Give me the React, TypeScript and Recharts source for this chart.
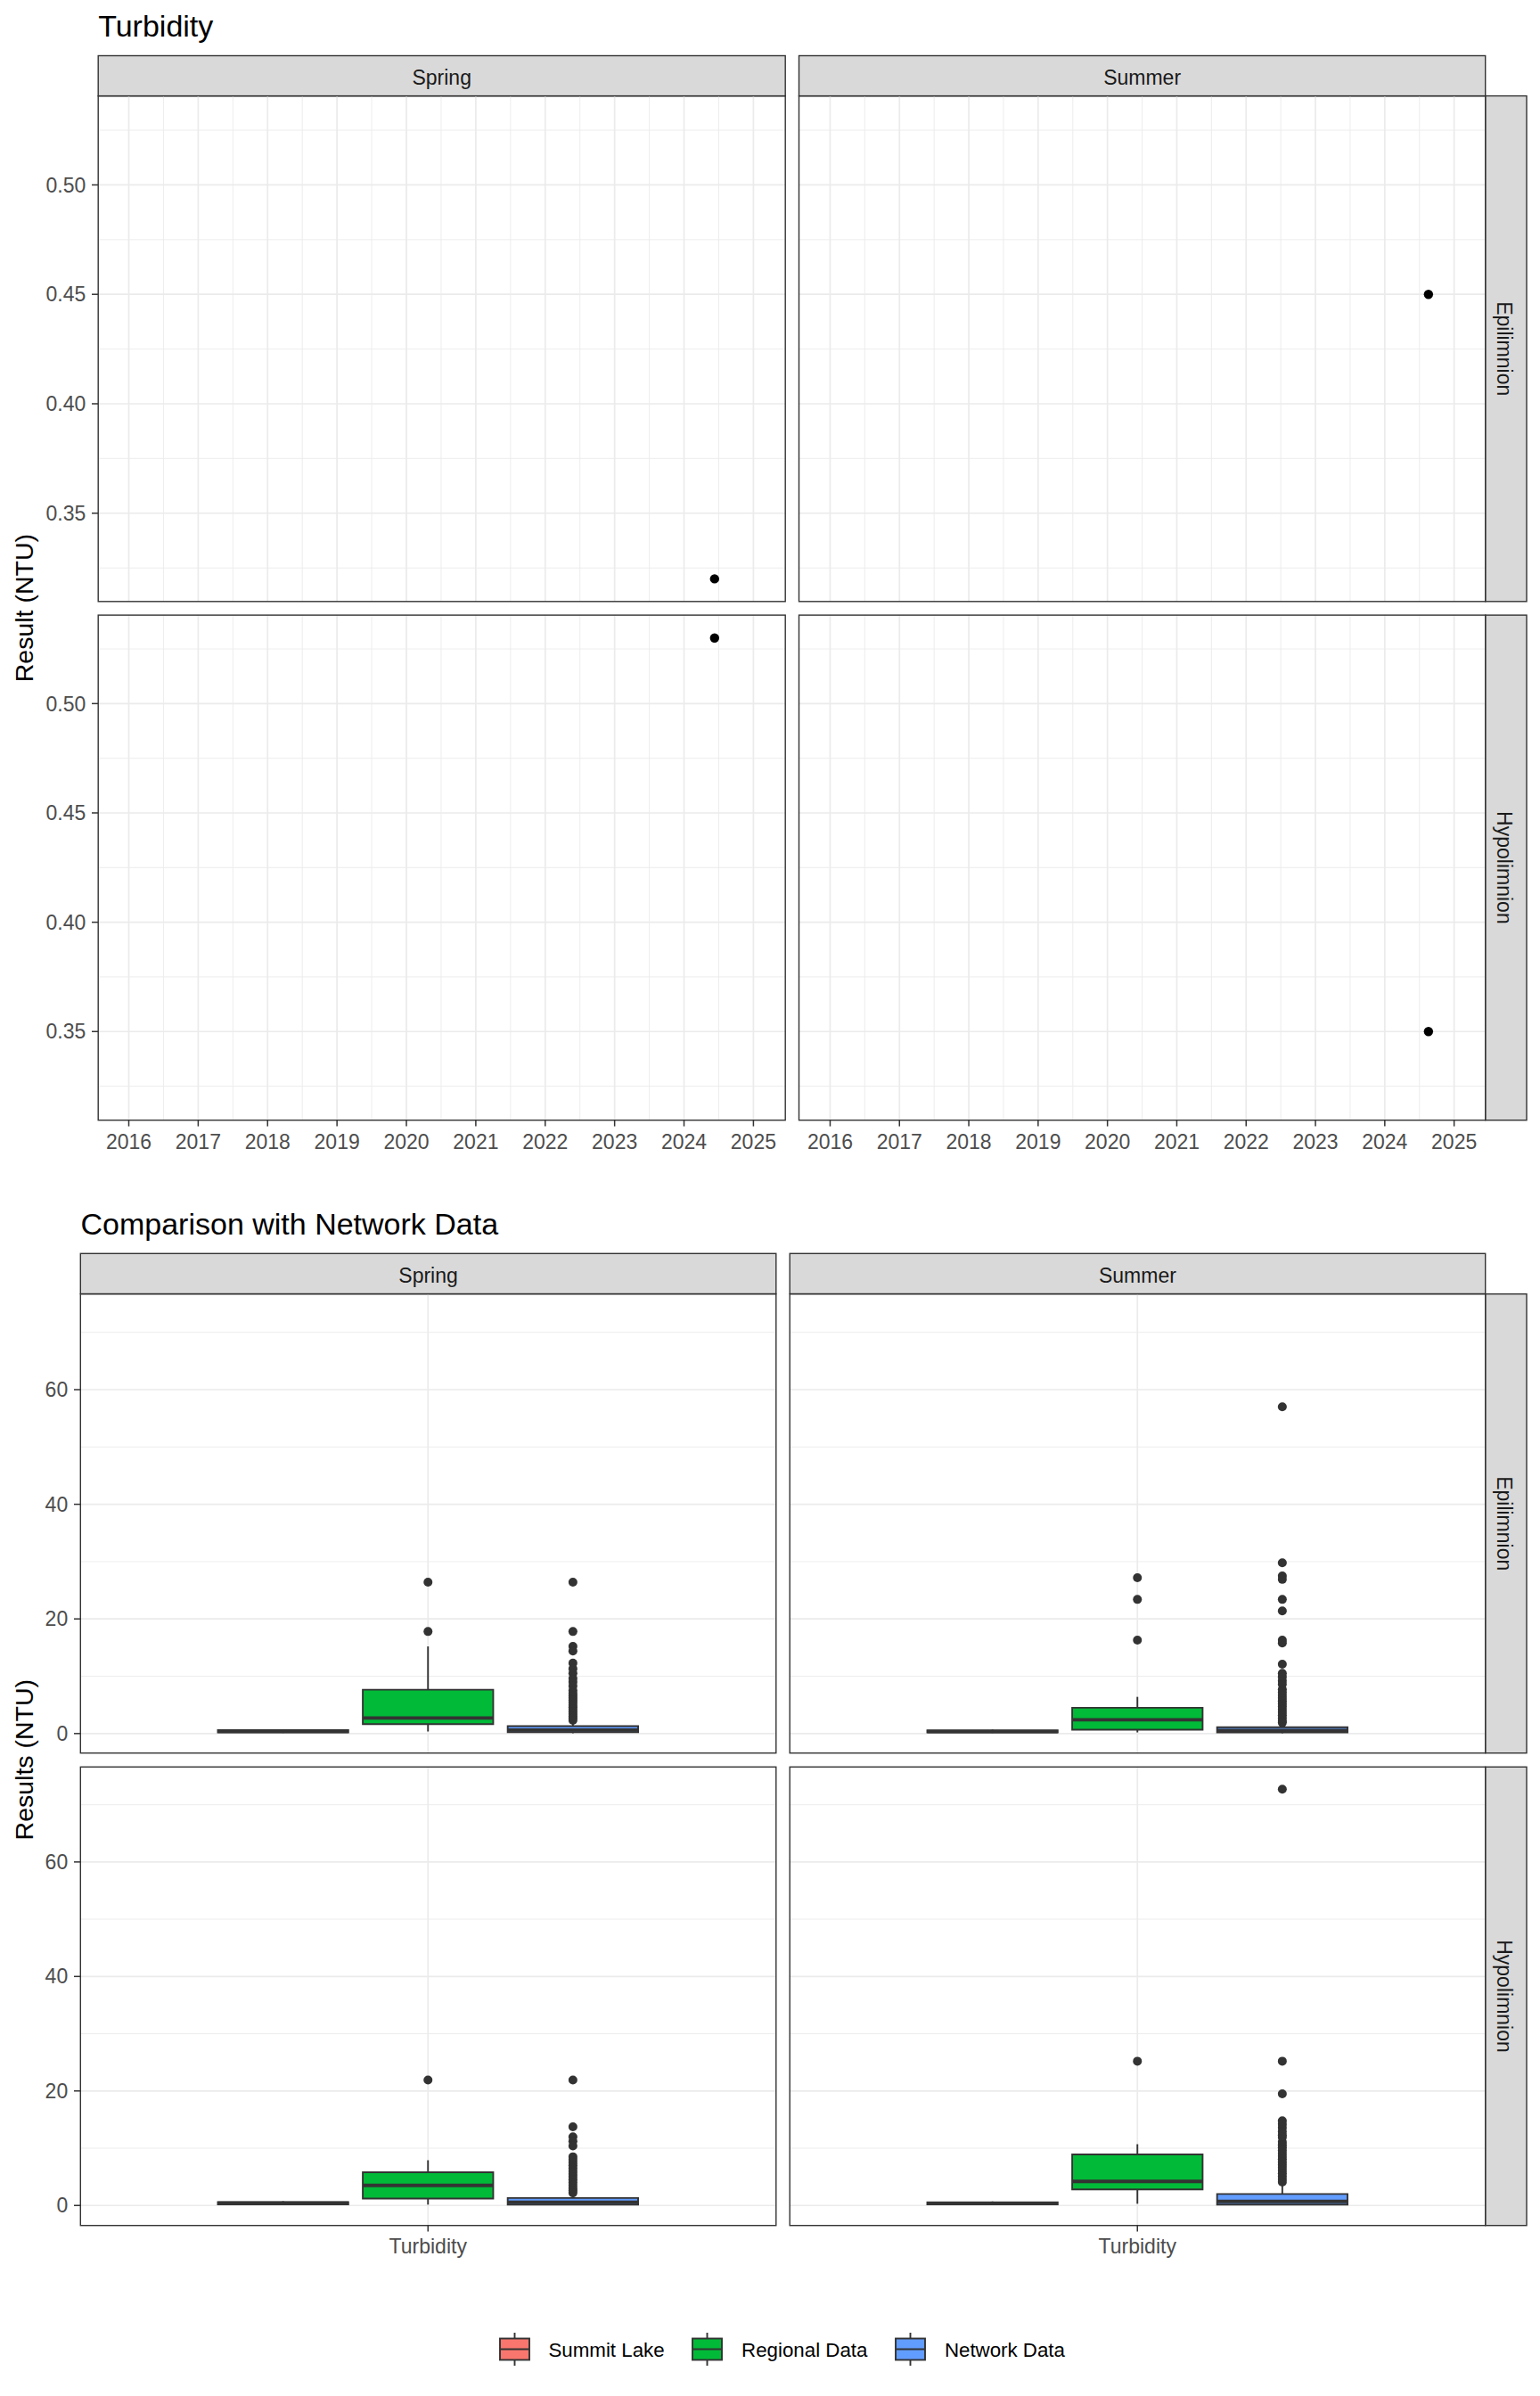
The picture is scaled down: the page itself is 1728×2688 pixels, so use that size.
import React from "react";
import {
  ComposedChart,
  Scatter,
  XAxis,
  YAxis,
  CartesianGrid,
  ReferenceArea,
  ReferenceLine,
} from "recharts";

const FONT = '"Liberation Sans", Arial, Helvetica, sans-serif';
const INK = "#333333";
const GRID = "#EBEBEB";
const STRIP_FILL = "#D9D9D9";
const TICK_TEXT = "#4D4D4D";
const STRIP_TEXT = "#1A1A1A";

// ---------------- Chart 1: Turbidity over time ----------------
const SEASONS = ["Spring", "Summer"];
const DEPTHS = ["Epilimnion", "Hypolimnion"];
const YEAR_TICKS = [2016, 2017, 2018, 2019, 2020, 2021, 2022, 2023, 2024, 2025];
const YEAR_MINOR = [2016.5, 2017.5, 2018.5, 2019.5, 2020.5, 2021.5, 2022.5, 2023.5, 2024.5];
const RESULT_TICKS = [0.35, 0.4, 0.45, 0.5];
const RESULT_MINOR = [0.325, 0.375, 0.425, 0.475, 0.525];
const SAMPLE_SEASON = ["Spring", "Summer", "Spring", "Summer"];
const SAMPLE_DEPTH = ["Epilimnion", "Epilimnion", "Hypolimnion", "Hypolimnion"];
const SAMPLE_YEAR = [2024.44, 2024.63, 2024.44, 2024.63];
const SAMPLE_NTU = [0.32, 0.45, 0.53, 0.35];
const YEAR_DOMAIN = [2015.557, 2025.457];
const RESULT_DOMAIN = [0.3095, 0.5405];

// ---------------- Chart 2: Comparison with network data ----------------
const GROUPS = ["Summit Lake", "Regional Data", "Network Data"];
const GROUP_FILL = ["#F8766D", "#00BA38", "#619CFF"];
const PARAMETER = "Turbidity";
const NTU_TICKS = [0, 20, 40, 60];
const NTU_MINOR = [10, 30, 50, 70];
const NTU_DOMAIN = [-3.45, 76.64];

// five-number summaries: [lower whisker, Q1, median, Q3, upper whisker]
const SPRING_EPI_SUMMIT = [0.1, 0.2, 0.4, 0.6, 0.75];
const SPRING_EPI_REGIONAL = [0.36, 1.65, 2.7, 7.65, 15.2];
const SPRING_EPI_NETWORK = [0.05, 0.25, 0.6, 1.3, 2.1];
const SUMMER_EPI_SUMMIT = [0.1, 0.2, 0.35, 0.55, 0.7];
const SUMMER_EPI_REGIONAL = [0.2, 0.67, 2.4, 4.5, 6.4];
const SUMMER_EPI_NETWORK = [0.05, 0.2, 0.55, 1.1, 1.75];
const SPRING_HYPO_SUMMIT = [0.1, 0.2, 0.4, 0.6, 0.75];
const SPRING_HYPO_REGIONAL = [0.15, 1.2, 3.5, 5.8, 7.9];
const SPRING_HYPO_NETWORK = [0.05, 0.15, 0.57, 1.3, 1.9];
const SUMMER_HYPO_SUMMIT = [0.1, 0.2, 0.35, 0.55, 0.7];
const SUMMER_HYPO_REGIONAL = [0.3, 2.8, 4.2, 8.9, 10.7];
const SUMMER_HYPO_NETWORK = [0.05, 0.16, 0.7, 2.0, 3.8];

// outliers
const NO_OUTLIERS: number[] = [];
const SPRING_EPI_REGIONAL_OUT = [26.4, 17.8];
const SPRING_EPI_NETWORK_OUT = [
  26.4, 17.8, 15.2, 14.4, 12.3, 11.3, 10.5, 9.6, 9.0, 8.3, 7.5, 7.0, 6.6, 6.2, 5.8, 5.4, 5.0,
  4.6, 4.2, 3.8, 3.4, 3.0, 2.7, 2.3,
];
const SUMMER_EPI_REGIONAL_OUT = [27.2, 23.4, 16.3];
const SUMMER_EPI_NETWORK_OUT = [
  57.0, 29.8, 27.5, 26.9, 23.4, 21.4, 16.3, 15.8, 12.1, 10.5, 9.9, 9.2, 8.6, 7.7, 7.2, 6.7,
  6.2, 5.7, 5.2, 4.7, 4.2, 3.7, 3.2, 2.7, 2.2, 1.9,
];
const SPRING_HYPO_REGIONAL_OUT = [21.9];
const SPRING_HYPO_NETWORK_OUT = [
  21.9, 13.75, 12.0, 11.2, 10.4, 8.5, 8.0, 7.5, 7.0, 6.5, 6.0, 5.5, 5.0, 4.5, 4.0, 3.5, 3.0,
  2.6, 2.2,
];
const SUMMER_HYPO_REGIONAL_OUT = [25.2];
const SUMMER_HYPO_NETWORK_OUT = [
  72.7, 25.2, 19.5, 14.8, 14.2, 13.6, 12.9, 12.3, 11.9, 11.1, 10.6, 10.1, 9.6, 9.1, 8.6, 8.1,
  7.6, 7.1, 6.6, 6.1, 5.6, 5.1, 4.6, 4.1,
];

const NETWORK_FACETS = [
  {
    season: "Spring",
    depth: "Epilimnion",
    stats: [SPRING_EPI_SUMMIT, SPRING_EPI_REGIONAL, SPRING_EPI_NETWORK],
    outliers: [NO_OUTLIERS, SPRING_EPI_REGIONAL_OUT, SPRING_EPI_NETWORK_OUT],
  },
  {
    season: "Summer",
    depth: "Epilimnion",
    stats: [SUMMER_EPI_SUMMIT, SUMMER_EPI_REGIONAL, SUMMER_EPI_NETWORK],
    outliers: [NO_OUTLIERS, SUMMER_EPI_REGIONAL_OUT, SUMMER_EPI_NETWORK_OUT],
  },
  {
    season: "Spring",
    depth: "Hypolimnion",
    stats: [SPRING_HYPO_SUMMIT, SPRING_HYPO_REGIONAL, SPRING_HYPO_NETWORK],
    outliers: [NO_OUTLIERS, SPRING_HYPO_REGIONAL_OUT, SPRING_HYPO_NETWORK_OUT],
  },
  {
    season: "Summer",
    depth: "Hypolimnion",
    stats: [SUMMER_HYPO_SUMMIT, SUMMER_HYPO_REGIONAL, SUMMER_HYPO_NETWORK],
    outliers: [NO_OUTLIERS, SUMMER_HYPO_REGIONAL_OUT, SUMMER_HYPO_NETWORK_OUT],
  },
];

// ---------------- layout ----------------
const C1_COLS = [
  { x: 110.2, w: 771 },
  { x: 896.5, w: 770.2 },
];
const C1_ROWS = [
  { y: 107.6, h: 567.2 },
  { y: 690.1, h: 566.6 },
];
const C1_STRIP_Y = 62.5;
const C2_COLS = [
  { x: 90.3, w: 780.5 },
  { x: 886.2, w: 780.5 },
];
const C2_ROWS = [
  { y: 1451.7, h: 515 },
  { y: 1982.3, h: 514.4 },
];
const C2_STRIP_Y = 1406.3;
const STRIP_H = 45.2;
const RSTRIP_X = 1666.7;
const RSTRIP_W = 46.3;
const YW = 100;
const XH = 60;
const DODGE = 0.25;
const HALF_BOX = 0.1125;

const TICK_STYLE = { fill: TICK_TEXT, fontSize: 23, fontFamily: FONT };
const TICK_LINE = { stroke: INK, strokeWidth: 1.5 };

function TurbidityPanel({ season, depth, col, row }: any) {
  const c = C1_COLS[col];
  const r = C1_ROWS[row];
  const showY = col === 0;
  const showX = row === DEPTHS.length - 1;
  const yw = showY ? YW : 0;
  const xh = showX ? XH : 0;
  const points = SAMPLE_YEAR.map((year, i) => ({
    x: year,
    y: SAMPLE_NTU[i],
    season: SAMPLE_SEASON[i],
    depth: SAMPLE_DEPTH[i],
  })).filter((p) => p.season === season && p.depth === depth);
  return (
    <div style={{ position: "absolute", left: c.x - yw, top: r.y, width: c.w + yw, height: r.h + xh }}>
      <ComposedChart width={c.w + yw} height={r.h + xh} margin={{ top: 0, right: 0, bottom: 0, left: 0 }}>
        <CartesianGrid verticalValues={YEAR_MINOR} horizontalValues={RESULT_MINOR} stroke={GRID} strokeWidth={0.9} />
        <CartesianGrid verticalValues={YEAR_TICKS} horizontalValues={RESULT_TICKS} stroke={GRID} strokeWidth={1.7} />
        <XAxis
          type="number"
          dataKey="x"
          domain={YEAR_DOMAIN}
          allowDataOverflow
          ticks={YEAR_TICKS}
          interval={0}
          hide={!showX}
          height={XH}
          axisLine={false}
          tickLine={TICK_LINE}
          tickSize={7}
          tickMargin={9.5}
          tick={TICK_STYLE}
        />
        <YAxis
          type="number"
          dataKey="y"
          domain={RESULT_DOMAIN}
          allowDataOverflow
          ticks={RESULT_TICKS}
          interval={0}
          hide={!showY}
          width={YW}
          axisLine={false}
          tickLine={TICK_LINE}
          tickSize={7}
          tickMargin={6.8}
          tick={TICK_STYLE}
          tickFormatter={(v: number) => v.toFixed(2)}
        />
        <Scatter
          data={points}
          isAnimationActive={false}
          shape={(p: any) => <circle cx={p.cx} cy={p.cy} r={5.2} fill="#000000" />}
        />
      </ComposedChart>
    </div>
  );
}

function NetworkPanel({ facet, col, row }: any) {
  const c = C2_COLS[col];
  const r = C2_ROWS[row];
  const showY = col === 0;
  const showX = row === DEPTHS.length - 1;
  const yw = showY ? YW : 0;
  const xh = showX ? XH : 0;
  return (
    <div style={{ position: "absolute", left: c.x - yw, top: r.y, width: c.w + yw, height: r.h + xh }}>
      <ComposedChart width={c.w + yw} height={r.h + xh} margin={{ top: 0, right: 0, bottom: 0, left: 0 }}>
        <CartesianGrid vertical={false} horizontalValues={NTU_MINOR} stroke={GRID} strokeWidth={0.9} />
        <CartesianGrid verticalValues={[1]} horizontalValues={NTU_TICKS} stroke={GRID} strokeWidth={1.7} />
        <XAxis
          type="number"
          dataKey="x"
          domain={[0.4, 1.6]}
          allowDataOverflow
          ticks={[1]}
          interval={0}
          hide={!showX}
          height={XH}
          axisLine={false}
          tickLine={TICK_LINE}
          tickSize={7}
          tickMargin={8}
          tick={TICK_STYLE}
          tickFormatter={() => PARAMETER}
        />
        <YAxis
          type="number"
          dataKey="y"
          domain={NTU_DOMAIN}
          allowDataOverflow
          ticks={NTU_TICKS}
          interval={0}
          hide={!showY}
          width={YW}
          axisLine={false}
          tickLine={TICK_LINE}
          tickSize={7}
          tickMargin={6.8}
          tick={TICK_STYLE}
        />
        {GROUPS.map((g, i) => {
          const cx = 1 + (i - 1) * DODGE;
          const [lw, q1, med, q3, uw] = facet.stats[i];
          return (
            <React.Fragment key={g}>
              <ReferenceLine segment={[{ x: cx, y: q3 }, { x: cx, y: uw }]} stroke={INK} strokeWidth={1.9} />
              <ReferenceLine segment={[{ x: cx, y: lw }, { x: cx, y: q1 }]} stroke={INK} strokeWidth={1.9} />
              <ReferenceArea
                x1={cx - HALF_BOX}
                x2={cx + HALF_BOX}
                y1={q1}
                y2={q3}
                fill={GROUP_FILL[i]}
                fillOpacity={1}
                stroke={INK}
                strokeWidth={1.9}
              />
              <ReferenceLine
                segment={[{ x: cx - HALF_BOX, y: med }, { x: cx + HALF_BOX, y: med }]}
                stroke={INK}
                strokeWidth={3.8}
              />
            </React.Fragment>
          );
        })}
        {GROUPS.map((g, i) => (
          <Scatter
            key={g + "-out"}
            name={g}
            data={facet.outliers[i].map((v: number) => ({ x: 1 + (i - 1) * DODGE, y: v }))}
            isAnimationActive={false}
            shape={(p: any) => <circle cx={p.cx} cy={p.cy} r={5} fill={INK} />}
          />
        ))}
      </ComposedChart>
    </div>
  );
}

function LegendKey({ fill }: { fill: string }) {
  return (
    <svg width={35} height={37} style={{ display: "block" }}>
      <line x1={17.5} x2={17.5} y1={0} y2={37} stroke={INK} strokeWidth={1.9} />
      <rect x={1} y={6.5} width={33} height={24} fill={fill} stroke={INK} strokeWidth={1.9} />
      <line x1={1} x2={34} y1={18.5} y2={18.5} stroke={INK} strokeWidth={1.9} />
    </svg>
  );
}

export default function App() {
  const c1StripTextY = C1_STRIP_Y + STRIP_H / 2 + 9.7;
  const c2StripTextY = C2_STRIP_Y + STRIP_H / 2 + 9.7;
  return (
    <div
      style={{
        position: "absolute",
        left: 0,
        top: 0,
        width: 1728,
        height: 2688,
        background: "#ffffff",
        overflow: "hidden",
        fontFamily: FONT,
      }}
    >
      <svg width={1728} height={2688} style={{ position: "absolute", left: 0, top: 0 }}>
        {/* Titles */}
        <text x={110.2} y={41} fontSize={34} fontFamily={FONT} fill="#000">
          Turbidity
        </text>
        <text x={90.5} y={1385} fontSize={34} fontFamily={FONT} fill="#000">
          Comparison with Network Data
        </text>
        {/* Y axis titles */}
        <text
          transform={`translate(36.5, ${(C1_ROWS[0].y + C1_ROWS[1].y + C1_ROWS[1].h) / 2}) rotate(-90)`}
          textAnchor="middle"
          fontSize={28.5}
          fontFamily={FONT}
          fill="#000"
        >
          Result (NTU)
        </text>
        <text
          transform={`translate(36.5, ${(C2_ROWS[0].y + C2_ROWS[1].y + C2_ROWS[1].h) / 2}) rotate(-90)`}
          textAnchor="middle"
          fontSize={28.5}
          fontFamily={FONT}
          fill="#000"
        >
          Results (NTU)
        </text>
        {/* Chart 1 strips */}
        {SEASONS.map((s, i) => (
          <g key={"c1s" + s}>
            <rect x={C1_COLS[i].x} y={C1_STRIP_Y} width={C1_COLS[i].w} height={STRIP_H} fill={STRIP_FILL} stroke={INK} strokeWidth={1.4} />
            <text x={C1_COLS[i].x + C1_COLS[i].w / 2} y={c1StripTextY} textAnchor="middle" fontSize={23} fontFamily={FONT} fill={STRIP_TEXT}>
              {s}
            </text>
          </g>
        ))}
        {DEPTHS.map((d, i) => (
          <g key={"c1d" + d}>
            <rect x={RSTRIP_X} y={C1_ROWS[i].y} width={RSTRIP_W} height={C1_ROWS[i].h} fill={STRIP_FILL} stroke={INK} strokeWidth={1.4} />
            <text
              transform={`translate(${RSTRIP_X + RSTRIP_W / 2 - 9.7}, ${C1_ROWS[i].y + C1_ROWS[i].h / 2}) rotate(90)`}
              textAnchor="middle"
              fontSize={23}
              fontFamily={FONT}
              fill={STRIP_TEXT}
            >
              {d}
            </text>
          </g>
        ))}
        {/* Chart 2 strips */}
        {SEASONS.map((s, i) => (
          <g key={"c2s" + s}>
            <rect x={C2_COLS[i].x} y={C2_STRIP_Y} width={C2_COLS[i].w} height={STRIP_H} fill={STRIP_FILL} stroke={INK} strokeWidth={1.4} />
            <text x={C2_COLS[i].x + C2_COLS[i].w / 2} y={c2StripTextY} textAnchor="middle" fontSize={23} fontFamily={FONT} fill={STRIP_TEXT}>
              {s}
            </text>
          </g>
        ))}
        {DEPTHS.map((d, i) => (
          <g key={"c2d" + d}>
            <rect x={RSTRIP_X} y={C2_ROWS[i].y} width={RSTRIP_W} height={C2_ROWS[i].h} fill={STRIP_FILL} stroke={INK} strokeWidth={1.4} />
            <text
              transform={`translate(${RSTRIP_X + RSTRIP_W / 2 - 9.7}, ${C2_ROWS[i].y + C2_ROWS[i].h / 2}) rotate(90)`}
              textAnchor="middle"
              fontSize={23}
              fontFamily={FONT}
              fill={STRIP_TEXT}
            >
              {d}
            </text>
          </g>
        ))}
      </svg>

      {DEPTHS.map((d, ri) =>
        SEASONS.map((s, ci) => <TurbidityPanel key={"t" + d + s} season={s} depth={d} col={ci} row={ri} />)
      )}
      {NETWORK_FACETS.map((f) => (
        <NetworkPanel
          key={"n" + f.season + f.depth}
          facet={f}
          col={SEASONS.indexOf(f.season)}
          row={DEPTHS.indexOf(f.depth)}
        />
      ))}

      {/* panel borders on top */}
      <svg width={1728} height={2688} style={{ position: "absolute", left: 0, top: 0, pointerEvents: "none" }}>
        {C1_ROWS.map((r, ri) =>
          C1_COLS.map((c, ci) => (
            <rect key={"b1" + ri + ci} x={c.x} y={r.y} width={c.w} height={r.h} fill="none" stroke={INK} strokeWidth={1.4} />
          ))
        )}
        {C2_ROWS.map((r, ri) =>
          C2_COLS.map((c, ci) => (
            <rect key={"b2" + ri + ci} x={c.x} y={r.y} width={c.w} height={r.h} fill="none" stroke={INK} strokeWidth={1.4} />
          ))
        )}
      </svg>

      {/* legend */}
      <div
        style={{
          position: "absolute",
          left: 559.6,
          top: 2616.7,
          height: 37,
          display: "flex",
          alignItems: "center",
          fontFamily: FONT,
          fontSize: 22.3,
          color: "#000",
          whiteSpace: "nowrap",
        }}
      >
        {GROUPS.map((g, i) => (
          <div key={g} style={{ display: "flex", alignItems: "center", marginRight: 30.6 }}>
            <LegendKey fill={GROUP_FILL[i]} />
            <span style={{ marginLeft: 20.9, lineHeight: "22.3px", position: "relative", top: 1.5 }}>{g}</span>
          </div>
        ))}
      </div>
    </div>
  );
}
